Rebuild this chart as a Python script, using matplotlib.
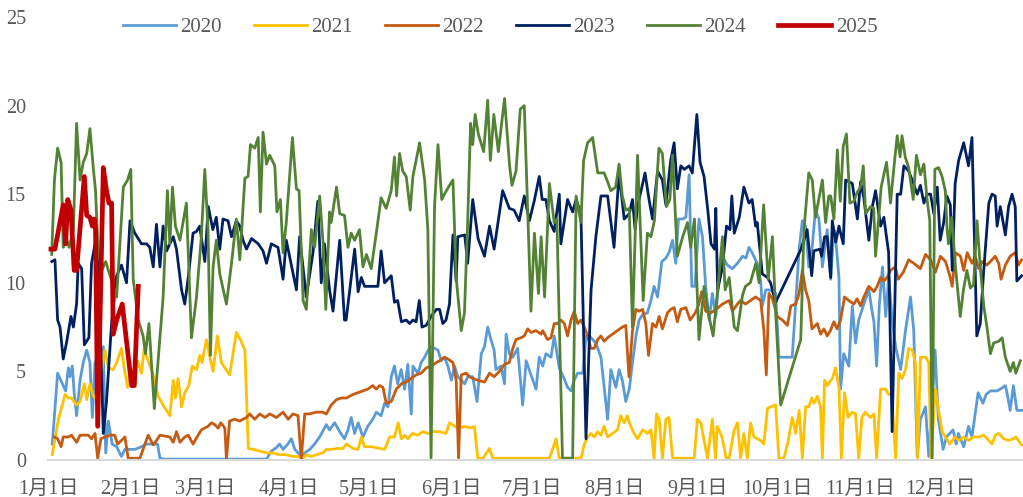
import matplotlib
matplotlib.use("Agg")
import matplotlib.pyplot as plt

plt.rcParams['font.family'] = ['Liberation Serif', 'Noto Sans CJK JP', 'DejaVu Sans']

# ---------------- data (day of year, value) ----------------
d2020 = [1.6,3.6,5.1,6.6,7.6,8.2,9.1,9.8,10.7,12.0,13.2,14.5,15.7,16.6,17.6,20.7,21.6,22.6,24.0,25.7,27.5,28.8,32.5,35.0,36.9,41.0,41.9,43.5,81.8,
         83.6,85.5,86.7,88.0,89.8,91.1,92.4,93.6,94.8,96.1,98.0,99.8,101.7,104.2,105.4,107.3,109.2,111.0,112.3,113.5,114.8,116.1,117.9,119.7,121.6,122.9,124.7,126.0,127.3,128.5,129.7,130.9,132.2,133.5,134.7,136.0,136.6,138.5,139.7,141.0,142.3,143.5,
         146.0,147.2,148.4,149.7,151.0,152.2,153.4,156.0,157.1,159.0,160.6,162.2,163.4,164.6,165.8,167.0,167.7,169.6,170.9,171.5,172.7,174.0,175.8,177.7,179.0,180.8,182.7,183.9,185.2,186.4,188.3,189.5,191.4,193.2,194.5,195.8,197.0,198.3,200.2,201.4,202.7,205.1,207.0,208.2,209.5,210.7,212.6,213.8,215.0,216.3,
         217.6,218.8,220.1,221.3,222.6,224.4,225.7,226.9,228.2,229.8,231.3,232.5,233.8,235.0,236.0,237.6,238.8,240.0,241.0,242.2,243.7,245.0,246.2,247.5,248.7,250.0,251.2,252.5,254.3,256.2,258.1,260.0,261.3,262.4,263.6,265.5,266.8,267.4,268.7,270.0,272.4,273.6,278.6,281.2,282.4,283.6,284.8,286.0,287.3,288.6,289.9,
         291.7,293.0,294.2,294.8,296.1,296.7,297.9,299.8,301.1,302.3,303.5,305.4,307.3,308.6,309.2,310.2,311.2,312.4,313.6,314.7,316.0,317.3,319.2,321.0,322.9,324.1,325.4,326.6,328.5,329.7,332.1,333.3,335.1,336.3,337.6,338.8,340.0,340.8,342.8,344.6,345.9,347.1,348.2,350.0,351.2,352.8,354.0,355.3,356.5,358.4,359.0,360.2,361.4,362.7,364.5]
v2020 = [0.9,4.9,4.4,3.9,5.2,4.7,5.3,3.8,2.5,4.5,5.5,6.2,5.5,2.4,5.5,6.4,0.4,2.2,0.9,0.75,0.2,0.6,0.6,0.75,0.9,0.9,0.1,0.05,0.05,
         0.5,0.7,0.9,0.6,0.9,1.2,0.6,0.4,0.2,0.4,0.6,0.9,1.3,2.0,1.7,2.1,1.6,1.2,1.7,2.4,1.5,2.1,1.3,1.9,2.3,2.7,2.5,3.2,3.0,4.7,5.3,4.3,5.1,4.0,5.4,2.6,5.3,4.9,5.5,5.8,6.2,6.4,
         6.2,5.6,5.8,5.3,4.5,5.3,4.7,4.3,4.7,4.7,3.3,6.0,6.4,7.5,6.8,6.2,5.1,5.3,4.3,7.1,6.0,5.8,6.3,3.1,5.6,4.8,4.0,5.8,5.3,6.0,5.8,7.0,5.2,4.6,4.1,3.9,4.5,4.9,4.9,7.0,7.0,6.6,5.8,4.1,2.3,5.1,4.1,5.1,4.5,3.3,
         4.0,5.5,7.0,7.9,8.2,8.3,9.0,9.8,9.2,11.2,11.4,11.7,12.4,11.1,13.6,13.6,13.7,16.1,9.8,9.8,13.6,12.6,9.8,7.9,9.4,8.1,10.3,11.5,11.0,10.8,11.1,11.5,11.4,12.0,11.7,11.1,10.1,8.7,9.6,9.6,9.4,5.8,5.8,11.9,13.5,13.2,10.9,11.9,14.1,13.6,10.9,
         13.0,10.2,13.0,12.6,10.3,4.0,6.0,5.3,8.7,6.6,7.9,8.8,9.6,8.3,7.8,5.3,8.7,10.9,8.1,10.3,8.0,6.4,5.1,7.3,9.2,7.3,0.2,2.3,3.0,0.2,6.2,2.3,0.6,1.3,1.5,1.7,0.9,1.5,0.75,1.9,1.3,2.6,3.8,3.2,3.7,3.9,3.9,3.9,4.0,4.2,3.8,2.8,4.2,2.8,2.8]

d2021 = [1.6,3.9,6.4,7.6,8.8,10.7,12.0,13.6,14.5,15.7,17.0,18.2,19.5,21.3,22.6,24.4,25.7,27.5,28.5,29.8,31.5,32.5,33.5,35.0,36.0,37.5,39.4,41.2,43.1,45.6,46.9,47.7,48.7,50.0,51.2,52.7,54.0,55.6,56.8,57.7,59.3,60.6,61.8,63.4,64.9,68.0,70.5,72.0,73.7,
         75.0,76.8,79.3,81.8,84.2,86.7,89.2,91.7,94.2,95.5,96.7,98.6,100.4,102.9,104.2,106.0,108.5,110.4,111.7,114.2,116.1,117.3,118.5,121.0,124.2,126.0,127.9,129.7,131.1,132.3,133.5,134.7,136.5,138.4,140.3,142.2,144.1,146.6,149.0,150.3,152.2,154.0,155.9,158.4,159.6,160.9,162.8,165.3,166.5,187.7,189.0,190.2,191.4,199.5,
         200.8,202.0,203.3,204.5,205.8,207.0,208.2,209.5,211.3,213.2,214.4,215.7,216.9,217.6,219.4,220.7,222.6,224.4,225.7,226.9,227.8,228.8,230.0,231.3,232.5,233.8,241.9,243.1,244.4,245.6,246.9,248.7,249.9,250.5,252.3,253.9,255.0,256.9,258.1,259.3,260.5,261.8,263.0,264.3,265.5,266.8,268.0,269.3,270.5,272.4,273.6,275.5,277.0,278.6,279.9,281.2,282.4,283.6,284.8,285.9,286.8,288.0,289.2,289.9,
         290.7,291.7,293.6,294.8,296.1,297.0,298.2,299.5,301.1,302.3,303.5,304.7,305.9,307.9,309.2,310.2,311.7,313.6,314.7,315.9,317.3,318.5,319.7,321.0,322.2,323.5,324.7,325.6,326.6,328.5,329.7,330.6,332.2,333.4,334.7,336.0,337.6,339.5,340.9,342.8,344.6,346.5,348.4,350.3,352.2,353.4,354.6,355.9,357.8,359.6,361.4,362.3,364.5]
v2021 = [0.3,2.3,3.7,3.5,3.5,3.1,3.3,4.3,3.4,4.3,3.6,3.4,4.5,6.2,5.2,5.1,5.5,6.3,5.2,4.1,5.1,4.3,5.6,4.9,6.3,5.6,4.8,3.6,3.1,2.5,4.5,3.5,4.6,3.0,3.8,4.2,5.3,5.1,5.9,5.5,6.8,5.8,5.0,7.0,5.5,4.8,7.2,6.8,6.2,
         0.65,0.6,0.5,0.4,0.4,0.3,0.3,0.2,0.2,0.1,0.3,0.2,0.3,0.4,0.6,0.6,0.65,0.65,0.9,0.65,0.6,1.3,0.75,0.75,0.65,0.6,1.3,1.3,2.1,1.2,1.4,1.2,1.5,1.4,1.6,1.5,1.6,1.6,1.5,2.1,1.9,1.8,1.9,1.8,1.9,0.1,0.1,0.65,0.1,0.1,0.65,1.2,0.1,0.1,
         0.9,1.3,1.5,1.3,1.6,1.4,1.9,1.3,1.5,1.7,2.5,2.1,2.5,2.1,1.5,1.2,1.7,1.5,1.7,0.1,2.6,2.3,0.1,2.3,2.4,0.1,0.1,2.3,2.1,1.1,0.1,2.3,0.1,1.9,1.3,0.1,0.1,1.7,2.1,0.1,1.5,0.1,2.1,1.3,1.2,1.1,0.9,2.9,3.0,3.1,0.1,0.1,1.0,2.4,1.5,2.8,0.1,3.0,3.0,3.5,3.2,3.6,3.0,0.1,
         4.5,4.2,4.6,5.2,4.1,0.1,3.8,2.4,2.7,2.6,0.1,2.4,2.7,2.4,2.6,0.1,4.0,4.0,3.7,3.7,0.1,4.9,4.6,5.1,6.3,6.2,5.5,0.1,5.8,5.8,5.5,0.1,4.0,2.8,1.6,1.3,0.9,1.3,1.1,1.3,1.1,1.3,1.3,1.4,1.1,0.9,1.4,1.5,1.2,1.1,1.2,1.3,0.85]

d2022 = [2.4,3.6,4.9,5.7,7.6,8.8,10.7,12.0,15.1,16.3,17.6,18.6,19.8,21.3,23.2,25.0,26.0,27.5,28.8,30.0,32.5,34.4,36.3,37.5,39.4,40.6,41.9,45.6,46.9,48.1,49.4,51.2,52.5,54.3,56.2,57.4,59.9,61.2,62.4,63.7,64.7,66.2,66.8,68.0,69.9,
         71.8,74.3,75.5,77.4,79.3,81.2,83.0,85.5,88.0,89.9,91.7,93.6,94.8,96.1,98.0,100.4,102.9,104.2,106.0,107.9,109.8,111.7,114.2,116.1,117.9,119.7,121.6,122.9,124.1,125.4,126.6,128.5,130.4,132.3,134.1,135.9,137.8,139.7,141.6,143.4,145.4,
         146.6,148.4,149.7,151.6,152.8,153.7,154.7,156.5,157.8,159.0,160.9,163.4,165.3,167.0,169.0,170.9,172.7,174.0,175.2,177.1,178.3,179.6,180.8,182.7,184.6,185.2,187.0,188.3,189.5,190.8,192.0,193.3,194.5,195.8,197.0,198.3,199.5,200.8,202.0,203.2,204.5,205.8,207.0,208.2,209.5,211.3,213.2,215.0,216.3,217.5,
         218.8,220.1,221.3,222.6,223.8,224.8,226.3,227.6,228.8,230.0,231.9,233.1,234.4,235.6,236.9,238.8,240.4,242.3,243.7,244.7,246.2,248.1,250.1,252.5,255.0,256.2,258.1,259.3,261.1,263.0,264.9,266.8,268.0,268.9,269.9,271.2,273.0,274.9,276.8,278.1,279.9,281.2,282.4,283.6,284.8,286.0,288.0,289.2,
         290.5,291.7,292.9,294.2,295.4,296.7,298.2,299.8,301.7,302.9,304.2,305.4,307.3,309.2,310.4,311.7,312.9,314.1,315.4,317.2,318.3,320.2,322.2,324.1,326.6,328.5,330.4,332.2,334.1,336.0,337.6,338.5,339.7,341.6,342.8,344.1,345.9,347.1,348.4,349.7,351.5,353.4,354.6,355.9,356.8,358.4,360.2,362.1,363.3,364.5]
v2022 = [1.3,1.2,0.75,1.3,1.3,1.4,1.0,1.4,1.4,1.2,1.5,0.1,1.2,1.3,1.4,1.4,0.9,1.1,1.3,0.1,0.1,0.1,0.9,1.4,0.85,1.1,1.4,1.3,1.0,1.6,1.0,1.3,1.4,0.9,1.4,1.7,1.9,2.1,2.0,1.8,2.1,1.8,0.05,2.2,2.3,
         2.2,2.4,2.6,2.3,2.6,2.4,2.6,2.4,2.7,2.3,2.6,2.5,0.0,2.6,2.6,2.7,2.7,2.6,3.1,3.4,3.5,3.5,3.7,3.8,3.9,4.0,4.2,4.0,4.2,4.1,3.2,3.3,4.0,4.3,4.4,4.6,4.8,4.9,5.2,5.3,5.5,
         5.6,5.8,5.7,5.5,4.5,0.1,4.8,4.9,4.7,4.6,4.5,4.4,4.9,4.7,5.0,5.4,5.5,6.3,6.8,6.9,7.0,7.4,7.2,7.3,7.1,7.3,6.8,6.9,7.7,7.7,7.9,7.7,7.0,7.9,8.4,7.7,7.9,7.5,7.0,6.3,6.3,6.8,7.0,6.7,6.9,7.1,7.3,7.5,7.6,4.7,
         7.3,8.5,8.4,8.5,7.7,5.9,7.7,7.5,8.1,7.4,8.3,8.5,8.6,7.8,8.5,8.6,7.9,8.3,8.8,9.5,8.4,8.3,8.5,8.8,9.0,8.4,8.8,9.0,8.8,9.0,9.2,9.0,7.3,4.8,9.4,9.1,8.1,7.9,7.6,8.7,8.8,9.4,10.7,9.6,9.0,7.4,7.7,7.1,
         7.4,7.0,7.3,7.8,7.4,7.9,9.2,9.0,8.8,9.1,8.7,9.2,9.8,9.5,9.8,10.3,10.1,10.3,10.7,10.9,10.2,10.6,11.3,11.1,10.8,11.6,11.3,10.6,11.5,11.2,10.4,9.8,11.7,11.5,10.7,11.7,11.1,11.5,10.8,11.2,11.0,11.3,11.5,11.1,10.2,11.0,11.5,11.7,11.0,11.3]

d2023 = [1.4,2.6,3.6,4.5,5.7,6.9,8.6,9.5,10.7,11.3,12.6,13.6,15.3,16.3,17.6,18.6,20.7,21.9,23.8,25.7,27.5,29.4,30.7,32.5,35.0,36.9,38.1,39.4,40.6,41.9,43.1,44.4,45.6,46.9,48.1,50.0,51.2,52.5,54.3,55.6,56.8,58.7,60.0,61.7,63.0,64.3,65.5,67.4,68.7,70.5,
         71.8,73.0,74.3,76.2,78.7,80.5,81.8,83.6,86.1,88.0,89.2,93.0,94.2,96.7,99.2,101.0,102.3,103.5,105.4,106.7,109.2,111.0,111.6,114.8,116.1,117.3,118.5,123.5,124.7,126.0,128.5,129.7,130.9,132.3,134.1,135.4,136.6,137.8,139.0,140.0,141.6,143.4,145.4,
         146.6,147.8,149.0,150.3,151.6,152.8,153.4,156.0,157.1,159.0,161.0,163.4,165.3,167.0,170.2,172.7,174.5,176.4,178.3,180.2,182.0,183.9,185.0,186.4,187.7,189.5,191.4,192.0,194.5,196.4,197.7,199.5,201.4,203.3,205.1,207.0,209.5,211.9,213.8,215.7,
         217.6,218.8,219.8,220.7,222.3,223.5,225.0,226.3,228.2,230.0,231.3,233.1,234.4,235.6,236.9,238.2,240.0,241.2,242.9,244.1,245.6,247.0,248.2,249.5,250.0,250.7,252.5,254.0,255.3,256.0,256.9,258.8,260.5,262.4,263.6,264.9,265.5,267.4,269.3,270.5,272.4,281.9,284.2,285.9,286.7,289.0,289.6,290.7,
         291.7,293.0,293.6,294.9,296.1,297.7,298.6,301.1,303.0,304.2,305.4,307.3,308.6,309.8,311.7,312.9,314.7,316.0,317.9,319.2,320.4,322.2,323.5,325.4,326.6,327.9,329.1,330.4,331.6,332.9,334.0,335.3,336.5,337.8,338.5,339.6,340.9,342.8,344.6,345.9,347.7,349.0,350.3,352.2,353.4,354.6,355.3,356.5,358.4,359.6,360.9,362.1,362.7,364.5]
v2023 = [11.2,11.3,7.9,7.5,5.7,6.6,8.1,7.5,8.8,11.1,10.8,6.5,6.9,11.1,12.2,12.0,1.5,3.3,7.7,10.4,11.0,10.0,13.5,12.8,12.2,12.2,12.0,10.9,13.3,10.9,13.2,11.8,12.2,12.6,11.9,9.6,8.8,10.3,12.8,12.9,13.2,11.2,14.3,13.0,13.7,11.9,13.6,13.5,12.6,13.5,
         13.2,12.4,11.9,12.5,12.2,11.8,11.1,12.2,12.0,10.2,12.4,9.6,12.6,9.2,11.7,14.6,10.0,12.2,9.6,8.4,12.4,7.9,7.9,11.9,9.5,10.3,9.8,9.8,11.8,10.0,10.4,8.9,9.0,7.8,7.9,7.7,7.9,7.8,9.0,7.5,7.6,8.1,8.5,
         8.5,7.7,7.9,8.8,12.7,10.1,12.6,12.7,11.1,14.7,12.5,11.5,13.2,11.9,15.2,14.2,14.1,13.5,14.9,13.5,14.6,16.0,14.7,14.7,13.5,12.9,15.0,12.2,14.7,14.0,14.7,13.9,1.2,9.6,12.6,14.9,14.9,12.0,16.2,13.6,
         13.9,14.7,13.0,14.3,15.4,16.2,14.7,13.6,16.3,15.8,14.4,16.9,17.9,15.3,16.6,16.4,16.6,16.2,19.5,16.8,16.0,14.1,12.2,11.9,14.2,9.6,10.9,13.2,13.0,14.9,12.8,13.7,15.4,14.5,14.7,13.2,13.4,10.5,10.3,10.0,8.9,11.9,13.0,10.4,11.8,11.9,11.5,12.6,
         12.6,10.3,13.5,12.3,13.2,12.2,15.8,15.6,13.6,15.7,14.8,12.4,14.3,15.2,13.2,13.7,11.7,1.6,15.0,15.0,16.6,16.3,15.8,15.0,15.5,14.5,15.0,15.0,13.9,15.4,12.4,13.4,14.9,14.4,10.7,15.6,16.9,17.9,16.6,18.2,7.0,7.7,10.7,14.5,15.0,14.9,13.2,14.3,12.7,14.3,15.0,14.3,10.1,10.4]

d2024 = [1.4,2.4,3.6,4.9,5.7,6.9,7.9,9.5,10.7,12.0,13.2,14.5,15.7,17.0,17.8,18.7,20.1,21.6,25.7,28.2,29.8,31.0,31.9,33.8,35.6,36.5,37.8,38.8,39.8,43.1,44.7,45.6,46.6,47.7,49.4,51.8,53.7,55.6,57.4,58.7,59.9,60.8,61.8,63.0,64.3,66.8,68.7,70.5,71.8,
         73.7,74.9,75.8,77.4,78.7,79.5,80.5,81.8,83.0,84.9,85.7,87.0,88.0,89.2,91.5,93.0,94.0,95.5,96.7,98.6,99.8,101.7,103.0,104.0,105.4,106.0,108.0,109.2,111.0,112.3,113.5,114.8,116.6,117.9,119.2,121.0,122.9,124.7,126.6,128.5,129.7,130.5,131.6,132.8,134.1,135.6,136.6,139.1,141.0,142.2,143.4,144.7,
         146.0,147.4,148.4,150.3,151.6,152.8,154.7,155.9,157.1,158.2,159.0,159.9,161.1,163.1,164.6,165.6,166.9,168.6,170.9,172.8,173.7,175.2,176.8,178.3,180.8,182.1,183.6,184.6,185.9,187.7,189.5,190.5,192.6,196.4,197.7,199.5,200.5,202.0,203.9,205.8,208.2,209.5,210.7,212.5,213.8,215.0,216.3,
         217.6,218.8,220.7,222.8,224.4,225.7,227.0,228.7,230.0,231.5,232.8,233.8,235.6,237.6,239.4,240.6,242.0,243.7,245.6,246.9,249.0,250.7,252.5,253.5,255.0,256.9,258.1,260.0,261.1,262.9,265.0,266.2,267.9,269.6,271.2,272.4,274.3,281.8,283.0,284.8,286.1,287.3,289.9,
         291.1,292.3,293.0,294.2,295.5,296.6,297.7,298.9,300.2,301.7,302.9,304.2,305.2,306.1,307.9,309.1,309.8,311.9,313.9,315.0,315.4,316.6,317.9,319.0,319.7,320.9,322.2,323.9,325.1,326.6,327.9,329.1,330.1,331.0,332.0,333.4,334.7,335.9,336.6,337.1,338.3,339.6,341.5,342.7,344.0,345.3,346.5,347.8,349.0,350.3,351.5,352.8,354.0,355.9,357.2,358.4,360.2,361.4,362.3,364.0]
v2024 = [11.6,15.8,17.6,16.8,12.0,12.5,12.0,13.0,19.0,15.8,16.8,17.3,18.7,16.4,15.2,11.9,10.7,11.2,9.2,15.4,15.8,16.4,10.2,7.9,7.0,6.0,7.7,5.3,2.9,9.2,15.2,12.2,15.4,13.2,12.4,14.5,6.9,9.2,12.6,16.4,13.0,5.9,10.9,12.4,10.5,8.8,11.1,13.6,11.3,
         15.9,16.0,17.8,17.6,18.2,14.0,18.5,16.7,17.2,16.6,14.0,14.7,11.7,13.4,18.2,15.3,15.2,9.0,8.5,13.0,12.0,14.9,12.2,8.5,14.0,13.4,15.4,13.9,13.8,12.0,12.8,12.4,13.0,10.9,11.6,10.8,12.8,14.8,14.2,15.2,17.1,14.9,17.3,16.3,16.0,14.1,16.0,17.9,15.8,13.0,0.1,14.3,
         17.8,14.7,15.0,15.5,15.8,10.3,7.3,8.3,13.4,19.0,17.8,19.5,18.4,17.4,20.3,16.9,19.5,17.4,20.4,16.6,15.5,16.3,19.8,20.0,8.4,12.8,9.4,12.6,9.2,15.6,13.4,13.6,0.1,0.1,14.9,13.4,16.9,17.9,18.2,16.2,16.2,15.7,15.2,15.4,16.7,14.9,14.1,
         14.2,7.5,17.2,9.0,12.8,12.6,13.5,17.6,17.3,14.3,14.7,17.2,11.5,12.6,13.4,12.0,13.6,6.8,9.8,8.5,7.0,9.6,12.6,9.6,10.3,7.5,7.3,9.3,9.8,10.0,11.1,10.0,14.4,10.2,12.6,8.3,3.1,6.8,13.0,16.2,15.8,13.7,15.8,
         13.4,14.9,14.9,13.6,17.5,14.6,17.7,18.4,14.5,14.6,15.1,15.4,16.6,13.9,14.3,14.2,11.5,15.4,16.8,15.2,14.5,16.4,18.3,17.1,18.3,17.1,16.5,14.7,17.2,16.1,16.7,14.7,13.5,0.1,16.4,16.5,16.0,15.2,13.0,12.2,13.7,11.1,8.1,9.6,10.7,9.7,9.9,13.5,10.9,8.7,7.5,6.0,6.6,6.7,6.9,5.8,5.0,5.5,4.9,5.6]

d2025 = [1.1,2.6,5.7,6.6,7.4,8.6,9.8,10.7,13.6,14.5,15.7,16.6,17.3,17.8,18.6,20.7,21.9,22.8,23.8,24.4,25.7,27.8,31.3,32.3,33.8]
v2025 = [11.9,11.9,14.4,12.2,14.7,14.1,10.7,10.7,16.0,13.8,13.7,13.2,13.6,13.0,1.9,16.5,15.2,14.5,14.5,7.1,7.9,8.8,4.2,4.2,9.8]

years = ['2020', '2021', '2022', '2023', '2024', '2025']
colors = ['#5B9BD5', '#FFC000', '#C55A11', '#002060', '#548235', '#C00000']
widths = [2.0, 2.0, 2.0, 2.0, 2.0, 3.4]
series_x = [d2020, d2021, d2022, d2023, d2024, d2025]
series_y = [v2020, v2021, v2022, v2023, v2024, v2025]

month_days = [0, 31, 59, 90, 120, 151, 181, 212, 243, 273, 304, 334]
month_labels = ['1月1日', '2月1日', '3月1日', '4月1日', '5月1日', '6月1日',
                '7月1日', '8月1日', '9月1日', '10月1日', '11月1日', '12月1日']
y_ticks = [0, 5, 10, 15, 20, 25]

# ---------------- figure ----------------
fig = plt.figure(figsize=(10.23, 4.97), dpi=100)
ax = fig.add_axes([48/1023, 37/497, 975/1023, 443/497])

for xs, ys, c, lw, lab in zip(series_x, series_y, colors, widths, years):
    ax.plot(xs, ys, color=c, lw=lw, label=lab, solid_joinstyle='round')

ax.set_xlim(0, 365)
ax.set_ylim(0, 25)
ax.set_xticks(month_days)
ax.set_xticklabels(month_labels)
ax.set_yticks(y_ticks)
ax.tick_params(axis='both', length=0, labelsize=14.5, colors='#595959')
ax.tick_params(axis='y', pad=16)
ax.tick_params(axis='x', pad=14)
for s in ['top', 'right', 'left']:
    ax.spines[s].set_visible(False)
ax.spines['bottom'].set_color('#D9D9D9')
ax.spines['bottom'].set_linewidth(1.5)

leg = fig.legend(loc='center', bbox_to_anchor=(500/1023, 1 - 27/497), ncol=6,
                 frameon=False, fontsize=15, handlelength=2.55, handletextpad=0.2,
                 columnspacing=1.55)
for t in leg.get_texts():
    t.set_color('#595959')

fig.savefig('out.png', dpi=100)
